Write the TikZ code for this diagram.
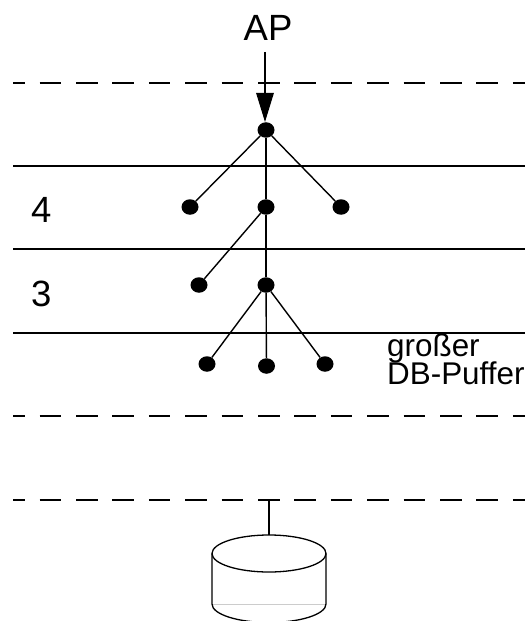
\documentclass[tikz,border=0pt]{standalone}
\usepackage{fontspec}
\setmainfont{Liberation Sans}
\usetikzlibrary{arrows.meta,shapes.geometric}
\tikzset{
  dot/.style={ellipse,fill=black,inner sep=0pt,minimum width=17bp,minimum height=15.5bp},
  solidrule/.style={line width=1.1bp},
  dashrule/.style={line width=1.2bp,dash pattern=on 21.5bp off 14.9bp,dash phase=9.8bp},
  edge/.style={line width=1.4bp},
  lbl/.style={anchor=base west,inner sep=0pt,font=\fontsize{36.5bp}{36.5bp}\selectfont},
  smalllbl/.style={anchor=base west,inner sep=0pt,font=\fontsize{31.4bp}{31.4bp}\selectfont},
}
\begin{document}
\begin{tikzpicture}[x=1bp,y=-1bp]
\useasboundingbox (0,0) rectangle (532,621);
\clip (0,0) rectangle (532,621);
% rules
\coordinate (d1l) at (13,83);  \coordinate (d1r) at (525,83);
\coordinate (s1l) at (13,166); \coordinate (s1r) at (525,166);
\coordinate (s2l) at (13,249); \coordinate (s2r) at (525,249);
\coordinate (s3l) at (13,333); \coordinate (s3r) at (525,333);
\coordinate (d2l) at (13,416); \coordinate (d2r) at (525,416);
\coordinate (d3l) at (13,500); \coordinate (d3r) at (525,500);
\draw[dashrule] (d1l) -- (d1r);
\draw[dashrule] (d2l) -- (d2r);
\draw[dashrule] (d3l) -- (d3r);
\draw[solidrule] (s1l) -- (s1r);
\draw[solidrule] (s2l) -- (s2r);
\draw[solidrule] (s3l) -- (s3r);
% labels
\node[lbl] (ap) at (243.5,41) {AP};
\node[lbl] (four) at (31,222) {4};
\node[lbl] (three) at (31,306) {3};
\node[smalllbl] (gross) at (387,356) {großer};
\node[smalllbl] (puffer) at (387,384) {DB-Puffer};
% tree
\node[dot] (r) at (266,130) {};
\node[dot] (a1) at (190,207) {};
\node[dot] (a2) at (266,207) {};
\node[dot] (a3) at (341,207) {};
\node[dot] (b1) at (199,285) {};
\node[dot] (b2) at (266,285) {};
\node[dot] (c1) at (207,364) {};
\node[dot] (c2) at (266.5,366) {};
\node[dot] (c3) at (325,364) {};
\coordinate (apend) at (265,52);
\draw[edge,-{Triangle[width=17.5bp,length=29bp]}] (apend) -- (265,122);
\draw[edge] (r) -- (a1);
\draw[edge] (r) -- (a2);
\draw[edge] (r) -- (a3);
\draw[edge] (a2) -- (b1);
\draw[edge] (a2) -- (b2);
\draw[edge] (b2) -- (c1);
\draw[edge] (b2) -- (c2);
\draw[edge] (b2) -- (c3);
% disk
\coordinate (dtop) at (269,535);
\coordinate (dlink) at (269,500);
\draw[edge] (dlink) -- (dtop);
\draw[black!20,line width=0.8bp] (212,604) -- (326,604);
\draw[line width=1.3bp] (269,553.5) ellipse [x radius=57,y radius=18.5];
\draw[line width=1.3bp] (212,553.5) -- (212,604) arc[start angle=180,end angle=360,x radius=57,y radius=-18.5] -- (326,553.5);
\end{tikzpicture}
\end{document}
